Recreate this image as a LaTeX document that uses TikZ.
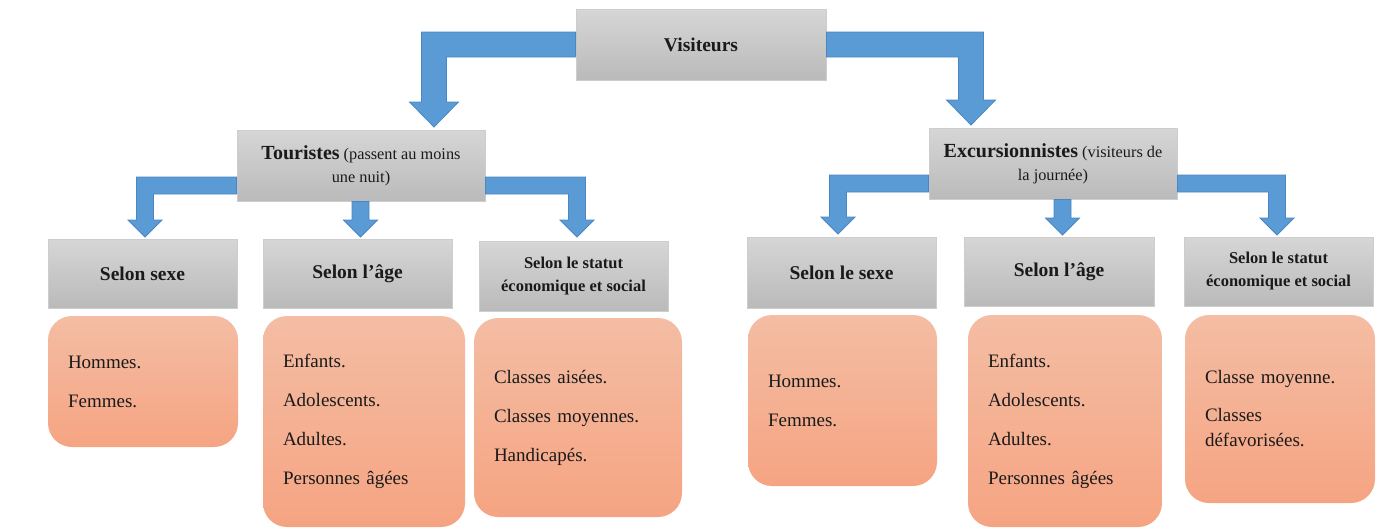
\documentclass[tikz,border=0pt]{standalone}
\usepackage{fontspec}
\setmainfont{Liberation Serif}
\usetikzlibrary{calc}
\definecolor{arrowblue}{HTML}{5B9BD5}
\definecolor{arrowedge}{HTML}{4A87C2}
\definecolor{graytop}{HTML}{D6D6D6}
\definecolor{graybot}{HTML}{BABABA}
\definecolor{grayedge}{HTML}{CDCDCD}
\definecolor{orangetop}{HTML}{F4BDA4}
\definecolor{orangebot}{HTML}{F5A482}
\definecolor{ink}{HTML}{1A1A1A}
% elbow block arrow: start, tip, sign (+1 right, -1 left), half shaft, half head, head length
\newcommand{\elbowarrow}[6]{%
  \path[blockarrow] let \p1=(#1), \p2=(#2) in
  (\x1,{\y1+#4}) -- ({\x2+#3*#4},{\y1+#4}) -- ({\x2+#3*#4},{\y2+#6})
  -- ({\x2+#3*#5},{\y2+#6}) -- (\x2,\y2) -- ({\x2-#3*#5},{\y2+#6})
  -- ({\x2-#3*#4},{\y2+#6}) -- ({\x2-#3*#4},{\y1-#4}) -- (\x1,{\y1-#4}) -- cycle;}
% straight down block arrow: start, tip, half shaft, half head, head length
\newcommand{\stemarrow}[5]{%
  \path[blockarrow] let \p1=(#1), \p2=(#2) in
  ({\x2-#3},\y1) -- ({\x2-#3},{\y2+#5}) -- ({\x2-#4},{\y2+#5}) -- (\x2,\y2)
  -- ({\x2+#4},{\y2+#5}) -- ({\x2+#3},{\y2+#5}) -- ({\x2+#3},\y1) -- cycle;}
\newcommand{\headword}[1]{{\fontsize{20}{23}\selectfont\bfseries #1}}
\begin{document}
\begin{tikzpicture}[x=1pt,y=-1pt,
  gbox/.style={top color=graytop, bottom color=graybot, draw=grayedge, line width=0.8pt,
    inner sep=0pt, align=center, text=ink},
  obox/.style={rounded corners=24pt, top color=orangetop, bottom color=orangebot,
    inner xsep=20pt, inner ysep=0pt, align=left, text=ink,
    font=\fontsize{19}{25}\selectfont},
  blockarrow/.style={fill=arrowblue, draw=arrowedge, line width=0.8pt},
  bigtitle/.style={font=\fontsize{19.5}{23}\selectfont\bfseries},
  subtitle/.style={font=\fontsize{19.5}{23}\selectfont\bfseries},
  smalltitle/.style={font=\fontsize{16.5}{23}\selectfont\bfseries},
  twoline/.style={font=\fontsize{16.3}{23}\selectfont}]
\useasboundingbox (0,0) rectangle (1376,528);
\fill[white] (0,0) rectangle (1376,528);

% top level
\node[gbox, bigtitle, minimum width=250pt, minimum height=71pt] (vis) at (701,44.5) {Visiteurs};

% second level
\node[gbox, twoline, minimum width=248pt, minimum height=71pt] (tour) at (361,165.5)
  {\headword{Touristes} (passent au moins\\une nuit)};
\node[gbox, twoline, minimum width=248pt, minimum height=71pt] (exc) at (1053,163.5)
  {\headword{Excursionnistes} (visiteurs de\\la journée)};

% third level
\node[gbox, subtitle, minimum width=189pt, minimum height=69pt] (l1) at (142.5,273.5) {Selon sexe};
\node[gbox, subtitle, minimum width=189pt, minimum height=69pt] (l2) at (357.5,273.5) {Selon l’âge};
\node[gbox, smalltitle, minimum width=189pt, minimum height=70pt] (l3) at (573.5,276) {Selon le statut\\économique et social};
\node[gbox, subtitle, minimum width=189pt, minimum height=71pt] (r1) at (841.5,272.5) {Selon le sexe};
\node[gbox, subtitle, minimum width=190pt, minimum height=69pt] (r2) at (1059,271.5) {Selon l’âge};
\node[gbox, smalltitle, minimum width=189pt, minimum height=69pt] (r3) at (1278.5,271.5) {Selon le statut\\économique et social};

% detail boxes
\node[obox, minimum width=190pt, text width=150pt, minimum height=131pt] (o1) at (143,381.5)
  {Hommes.\\[14pt]Femmes.};
\node[obox, minimum width=202pt, text width=162pt, minimum height=211pt] (o2) at (364,421.5)
  {Enfants.\\[14pt]Adolescents.\\[14pt]Adultes.\\[14pt]Personnes âgées};
\node[obox, minimum width=208pt, text width=168pt, minimum height=199pt] (o3) at (578,417.5)
  {Classes aisées.\\[14pt]Classes moyennes.\\[14pt]Handicapés.};
\node[obox, minimum width=189pt, text width=149pt, minimum height=171pt] (o4) at (842.5,400.5)
  {Hommes.\\[14pt]Femmes.};
\node[obox, minimum width=194pt, text width=154pt, minimum height=212pt] (o5) at (1065,421)
  {Enfants.\\[14pt]Adolescents.\\[14pt]Adultes.\\[14pt]Personnes âgées};
\node[obox, minimum width=190pt, text width=150pt, minimum height=188pt] (o6) at (1280,409)
  {Classe moyenne.\\[13pt]Classes\\défavorisées.};

% arrow anchors
\coordinate (tipTour) at (434,127);
\coordinate (tipExc) at (971,125);
\coordinate (sTourL) at ($(tour.west)+(0,20)$);
\coordinate (sTourR) at ($(tour.east)+(0,20)$);
\coordinate (sExcL) at ($(exc.west)+(0,20)$);
\coordinate (sExcR) at ($(exc.east)+(0,20)$);
\coordinate (tipL1) at (145,237);
\coordinate (tipL2) at (360.5,237);
\coordinate (tipL3) at (577,237);
\coordinate (tipR1) at (838,234);
\coordinate (tipR2) at (1062.5,235);
\coordinate (tipR3) at (1277,235);

% arrows
\elbowarrow{vis.west}{tipTour}{-1}{12.5pt}{24.5pt}{25pt}
\elbowarrow{vis.east}{tipExc}{1}{12.5pt}{24.5pt}{25pt}
\elbowarrow{sTourL}{tipL1}{-1}{8.5pt}{17pt}{17pt}
\stemarrow{tour.south}{tipL2}{8.5pt}{17pt}{17pt}
\elbowarrow{sTourR}{tipL3}{1}{8.5pt}{17pt}{17pt}
\elbowarrow{sExcL}{tipR1}{-1}{8.5pt}{17pt}{17pt}
\stemarrow{exc.south}{tipR2}{8.5pt}{17pt}{17pt}
\elbowarrow{sExcR}{tipR3}{1}{8.5pt}{17pt}{17pt}
\end{tikzpicture}
\end{document}
